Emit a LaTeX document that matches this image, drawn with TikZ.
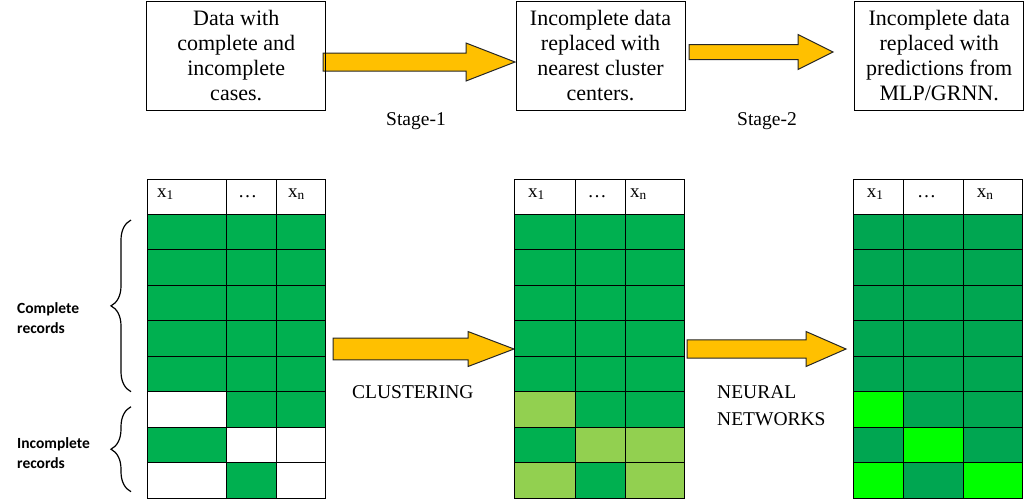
\documentclass[tikz,border=0pt]{standalone}
\usepackage{fontspec}
\setmainfont{Liberation Serif}
\newfontfamily\calibri{Carlito}
\usetikzlibrary{positioning,calc,decorations.pathreplacing}

\definecolor{cG}{HTML}{00B050}
\definecolor{cL}{HTML}{92D050}
\definecolor{cD}{HTML}{00A651}
\definecolor{cB}{HTML}{00FF00}
\definecolor{arrowfill}{HTML}{FFC000}

\tikzset{
  stagebox/.style={draw, line width=1pt, minimum width=169pt, minimum height=109pt,
    inner sep=0pt, align=center, font=\fontsize{22}{25}\selectfont},
  blockarrow/.style={draw=black!85, line width=1pt, fill=arrowfill, line join=miter},
  caption/.style={font=\fontsize{19.5}{27}\selectfont, inner sep=0pt},
  headtext/.style={font=\fontsize{19}{22}\selectfont, inner sep=0pt, anchor=base west},
  sidelabel/.style={font=\calibri\bfseries\fontsize{15.5}{20}\selectfont, align=left,
    inner sep=0pt, anchor=base west},
  grid line/.style={line width=1pt, black},
  bracket/.style={decorate, decoration={brace, amplitude=20pt}, line width=1.2pt}
}

% fat arrow: from, to, head length, shaft half, head half
\newcommand{\fatarrow}[5]{%
  \draw[blockarrow] let \p1=(#1), \p2=(#2) in
    (\x1,\y1+#4) -- (\x2-#3,\y1+#4) -- (\x2-#3,\y1+#5) -- (\x2,\y1)
    -- (\x2-#3,\y1-#5) -- (\x2-#3,\y1-#4) -- (\x1,\y1-#4) -- cycle;}

% table: name, column edges (4), cell colours, header positions (3)
\newcommand{\datatable}[9]{%
  \foreach \ca/\cb/\cc [count=\i from 0] in {#6} {
    \fill[\ca] (#2,214.3+35.5*\i) rectangle (#3,249.8+35.5*\i);
    \fill[\cb] (#3,214.3+35.5*\i) rectangle (#4,249.8+35.5*\i);
    \fill[\cc] (#4,214.3+35.5*\i) rectangle (#5,249.8+35.5*\i);
  }
  \foreach \k in {0,...,7}
    \draw[grid line] (#2,214.3+35.5*\k) -- (#5,214.3+35.5*\k);
  \draw[grid line] (#3,179.3) -- (#3,498.3) (#4,179.3) -- (#4,498.3);
  \draw[grid line] (#2,179.3) rectangle (#5,498.3);
  \node[headtext] (#1x1) at (#7,197) {x\textsubscript{1}};
  \node[headtext, anchor=base] (#1dots) at (#8,197) {\dots};
  \node[headtext] (#1xn) at (#9,197) {x\textsubscript{n}};
}

\begin{document}
\begin{tikzpicture}[x=1pt,y=-1pt]
\useasboundingbox (0,0) rectangle (1024,499);

% stage arrows (top)
\coordinate (s1from) at (323,62);
\coordinate (s1to) at (515,62);
\coordinate (s2from) at (689,52);
\coordinate (s2to) at (833,52);
\fatarrow{s1from}{s1to}{49pt}{9pt}{19pt}
\fatarrow{s2from}{s2to}{35pt}{7.5pt}{17.5pt}

% top boxes
\node[stagebox, minimum width=179pt] (raw) at (236.2,55.5) {Data with\\complete and\\incomplete\\cases.};
\node[stagebox, right=189.3pt of raw] (clustered) {Incomplete data\\replaced with\\nearest cluster\\centers.};
\node[stagebox, right=168.7pt of clustered] (predicted) {Incomplete data\\replaced with\\predictions from\\MLP/GRNN.};

\node[caption, anchor=base] (stageone) at (416,125) {Stage-1};
\node[caption, anchor=base] (stagetwo) at (767,125) {Stage-2};

% method arrows (bottom)
\coordinate (m1from) at (333,349);
\coordinate (m1to) at (514,349);
\coordinate (m2from) at (687,349);
\coordinate (m2to) at (846,349);
\fatarrow{m1from}{m1to}{46pt}{10.8pt}{17.5pt}
\fatarrow{m2from}{m2to}{40pt}{9.2pt}{17.5pt}

\node[caption, anchor=base west] (clustering) at (352,398) {CLUSTERING};
\node[caption, anchor=base west, align=left] (neural) at (717,425) {NEURAL\\NETWORKS};

% tables
\datatable{tabraw}{147}{226.7}{276.3}{325.7}%
  {cG/cG/cG, cG/cG/cG, cG/cG/cG, cG/cG/cG, cG/cG/cG, white/cG/cG, cG/white/white, white/cG/white}%
  {157}{247.5}{288}
\datatable{tabclu}{514.3}{575}{625}{684.3}%
  {cG/cG/cG, cG/cG/cG, cG/cG/cG, cG/cG/cG, cG/cG/cG, cL/cG/cG, cG/cL/cL, cL/cG/cL}%
  {528}{597}{630}
\datatable{tabnn}{853.3}{903.3}{963.3}{1022.7}%
  {cD/cD/cD, cD/cD/cD, cD/cD/cD, cD/cD/cD, cD/cD/cD, cB/cD/cD, cD/cB/cD, cB/cD/cB}%
  {866.7}{926.7}{976.7}

% braces and record labels
\draw[bracket] (131,391.7) -- (131,220);
\draw[bracket] (131,491.7) -- (131,406.7);
\node[sidelabel] (complete) at (17,333) {Complete\\records};
\node[sidelabel] (incomplete) at (17,468) {Incomplete\\records};
\end{tikzpicture}
\end{document}
